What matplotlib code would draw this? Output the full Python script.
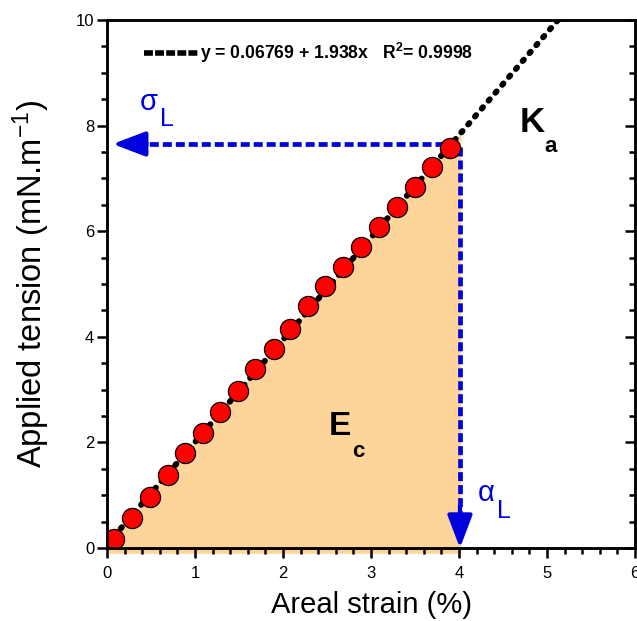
import matplotlib
matplotlib.use('Agg')
import matplotlib.pyplot as plt
from matplotlib.lines import Line2D
from matplotlib.ticker import MultipleLocator

# Messpunkte
strain = [0.083, 0.283, 0.487, 0.688, 0.887, 1.088, 1.284, 1.485, 1.685, 1.892,
          2.081, 2.285, 2.482, 2.686, 2.887, 3.094, 3.295, 3.501, 3.697, 3.898]
tension = [0.165, 0.575, 0.974, 1.385, 1.79, 2.18, 2.58, 2.98, 3.39, 3.77,
           4.15, 4.58, 4.96, 5.32, 5.70, 6.08, 6.46, 6.84, 7.22, 7.58]

# Lineare Anpassung
fit_intercept = 0.06769
fit_slope = 1.938
fit_x = [0.0, 5.125]
fill_x = [0.0, 4.02]

# Grenzwerte (alpha_L, sigma_L)
alpha_L = 4.01
sigma_L = 7.65

plt.rcParams['font.family'] = ['Liberation Sans', 'DejaVu Sans']
plt.rcParams['mathtext.fontset'] = 'custom'
plt.rcParams['mathtext.rm'] = 'Liberation Sans'
plt.rcParams['mathtext.bf'] = 'Liberation Sans:bold'
plt.rcParams['mathtext.default'] = 'regular'

fig = plt.figure(figsize=(6.37, 6.21), dpi=100)
ax = fig.add_axes([0.168, 0.1175, 0.829, 0.8505])

blue = '#0000dd'

# Fläche unter der Geraden
fill_y = [fit_intercept + fit_slope * v for v in fill_x]
ax.fill_between(fill_x, [-0.1, -0.1], fill_y, color='#fdd59b', lw=0, zorder=1, clip_on=False)

# Anpassungsgerade
fit_y = [fit_intercept + fit_slope * v for v in fit_x]
ax.plot(fit_x, fit_y, color='black', lw=4.3, dashes=(0.3, 1.45),
        dash_capstyle='round', zorder=2)

# Messpunkte
ax.plot(strain, tension, 'o', ms=14.5, mfc='#ff0000', mec='black', mew=0.9, zorder=4)

# gestrichelte Pfeile
ax.plot([alpha_L - 0.03, 0.35], [sigma_L, sigma_L], color=blue, lw=3.4, dashes=(1.9, 0.85), zorder=3)
ax.annotate('', xy=(0.065, sigma_L), xytext=(0.45, sigma_L),
            arrowprops=dict(arrowstyle='-|>,head_length=1.0,head_width=0.38',
                            color=blue, lw=3, mutation_scale=20, shrinkA=0, shrinkB=0),
            zorder=3)
ax.plot([alpha_L, alpha_L], [sigma_L - 0.05, 0.5], color=blue, lw=3.4, dashes=(1.9, 0.85), zorder=3)
ax.annotate('', xy=(alpha_L, 0.0), xytext=(alpha_L, 0.8),
            arrowprops=dict(arrowstyle='-|>,head_length=1.0,head_width=0.38',
                            color=blue, lw=3, mutation_scale=20, shrinkA=0, shrinkB=0),
            zorder=3)

# Beschriftungen
ax.text(0.476, 8.44, 'σ', color=blue, fontsize=21, ha='center', va='center')
ax.text(0.68, 8.12, 'L', color=blue, fontsize=18, ha='center', va='center')
ax.text(4.31, 1.04, 'α', color=blue, fontsize=21, ha='center', va='center')
ax.text(4.51, 0.70, 'L', color=blue, fontsize=18, ha='center', va='center')
ax.text(4.83, 8.06, 'K', color='black', fontsize=25, fontweight='bold', ha='center', va='center')
ax.text(5.04, 7.61, 'a', color='black', fontsize=16, fontweight='bold', ha='center', va='center')
ax.text(2.65, 2.30, 'E', color='black', fontsize=24, fontweight='bold', ha='center', va='center')
ax.text(2.86, 1.82, 'c', color='black', fontsize=16, fontweight='bold', ha='center', va='center')

# Legende
handle = Line2D([], [], color='black', lw=4, dashes=(1.6, 0.4), dash_capstyle='butt')
leg = ax.legend([handle], [r'y = 0.06769 + 1.938x   R$^\mathbf{2}$= 0.9998'],
                loc='center left', bbox_to_anchor=(0.07, 0.9375), frameon=False,
                handlelength=3.1, handletextpad=0.1, borderaxespad=0, borderpad=0,
                prop={'size': 12.7, 'weight': 'bold'})

# Achsen
ax.set_xlim(0, 6)
ax.set_ylim(0, 10)
ax.xaxis.set_major_locator(MultipleLocator(1))
ax.xaxis.set_minor_locator(MultipleLocator(0.2))
ax.yaxis.set_major_locator(MultipleLocator(2))
ax.yaxis.set_minor_locator(MultipleLocator(0.5))
ax.tick_params(which='both', direction='out', width=1.8, labelsize=12, top=False)
ax.tick_params(which='major', length=7.2)
ax.tick_params(which='minor', length=4.3)
ax.tick_params(axis='y', pad=2)
ax.tick_params(axis='x', pad=6)
for s in ax.spines.values():
    s.set_linewidth(1.8)

# rechte Achse mit Ticks nach innen
ax2 = ax.twinx()
ax2.set_ylim(0, 10)
ax2.yaxis.set_major_locator(MultipleLocator(2))
ax2.yaxis.set_minor_locator(MultipleLocator(0.5))
ax2.tick_params(which='both', direction='in', width=1.8, labelright=False)
ax2.tick_params(which='major', length=7.2)
ax2.tick_params(which='minor', length=4.3)
for s in ax2.spines.values():
    s.set_linewidth(1.8)

ax.set_xlabel('Areal strain (%)', fontsize=21, labelpad=7)
ax.set_ylabel('Applied tension (mN.m$^{-1}$)', fontsize=23.5, labelpad=17)

plt.savefig('out.png', dpi=100)
plt.close()
